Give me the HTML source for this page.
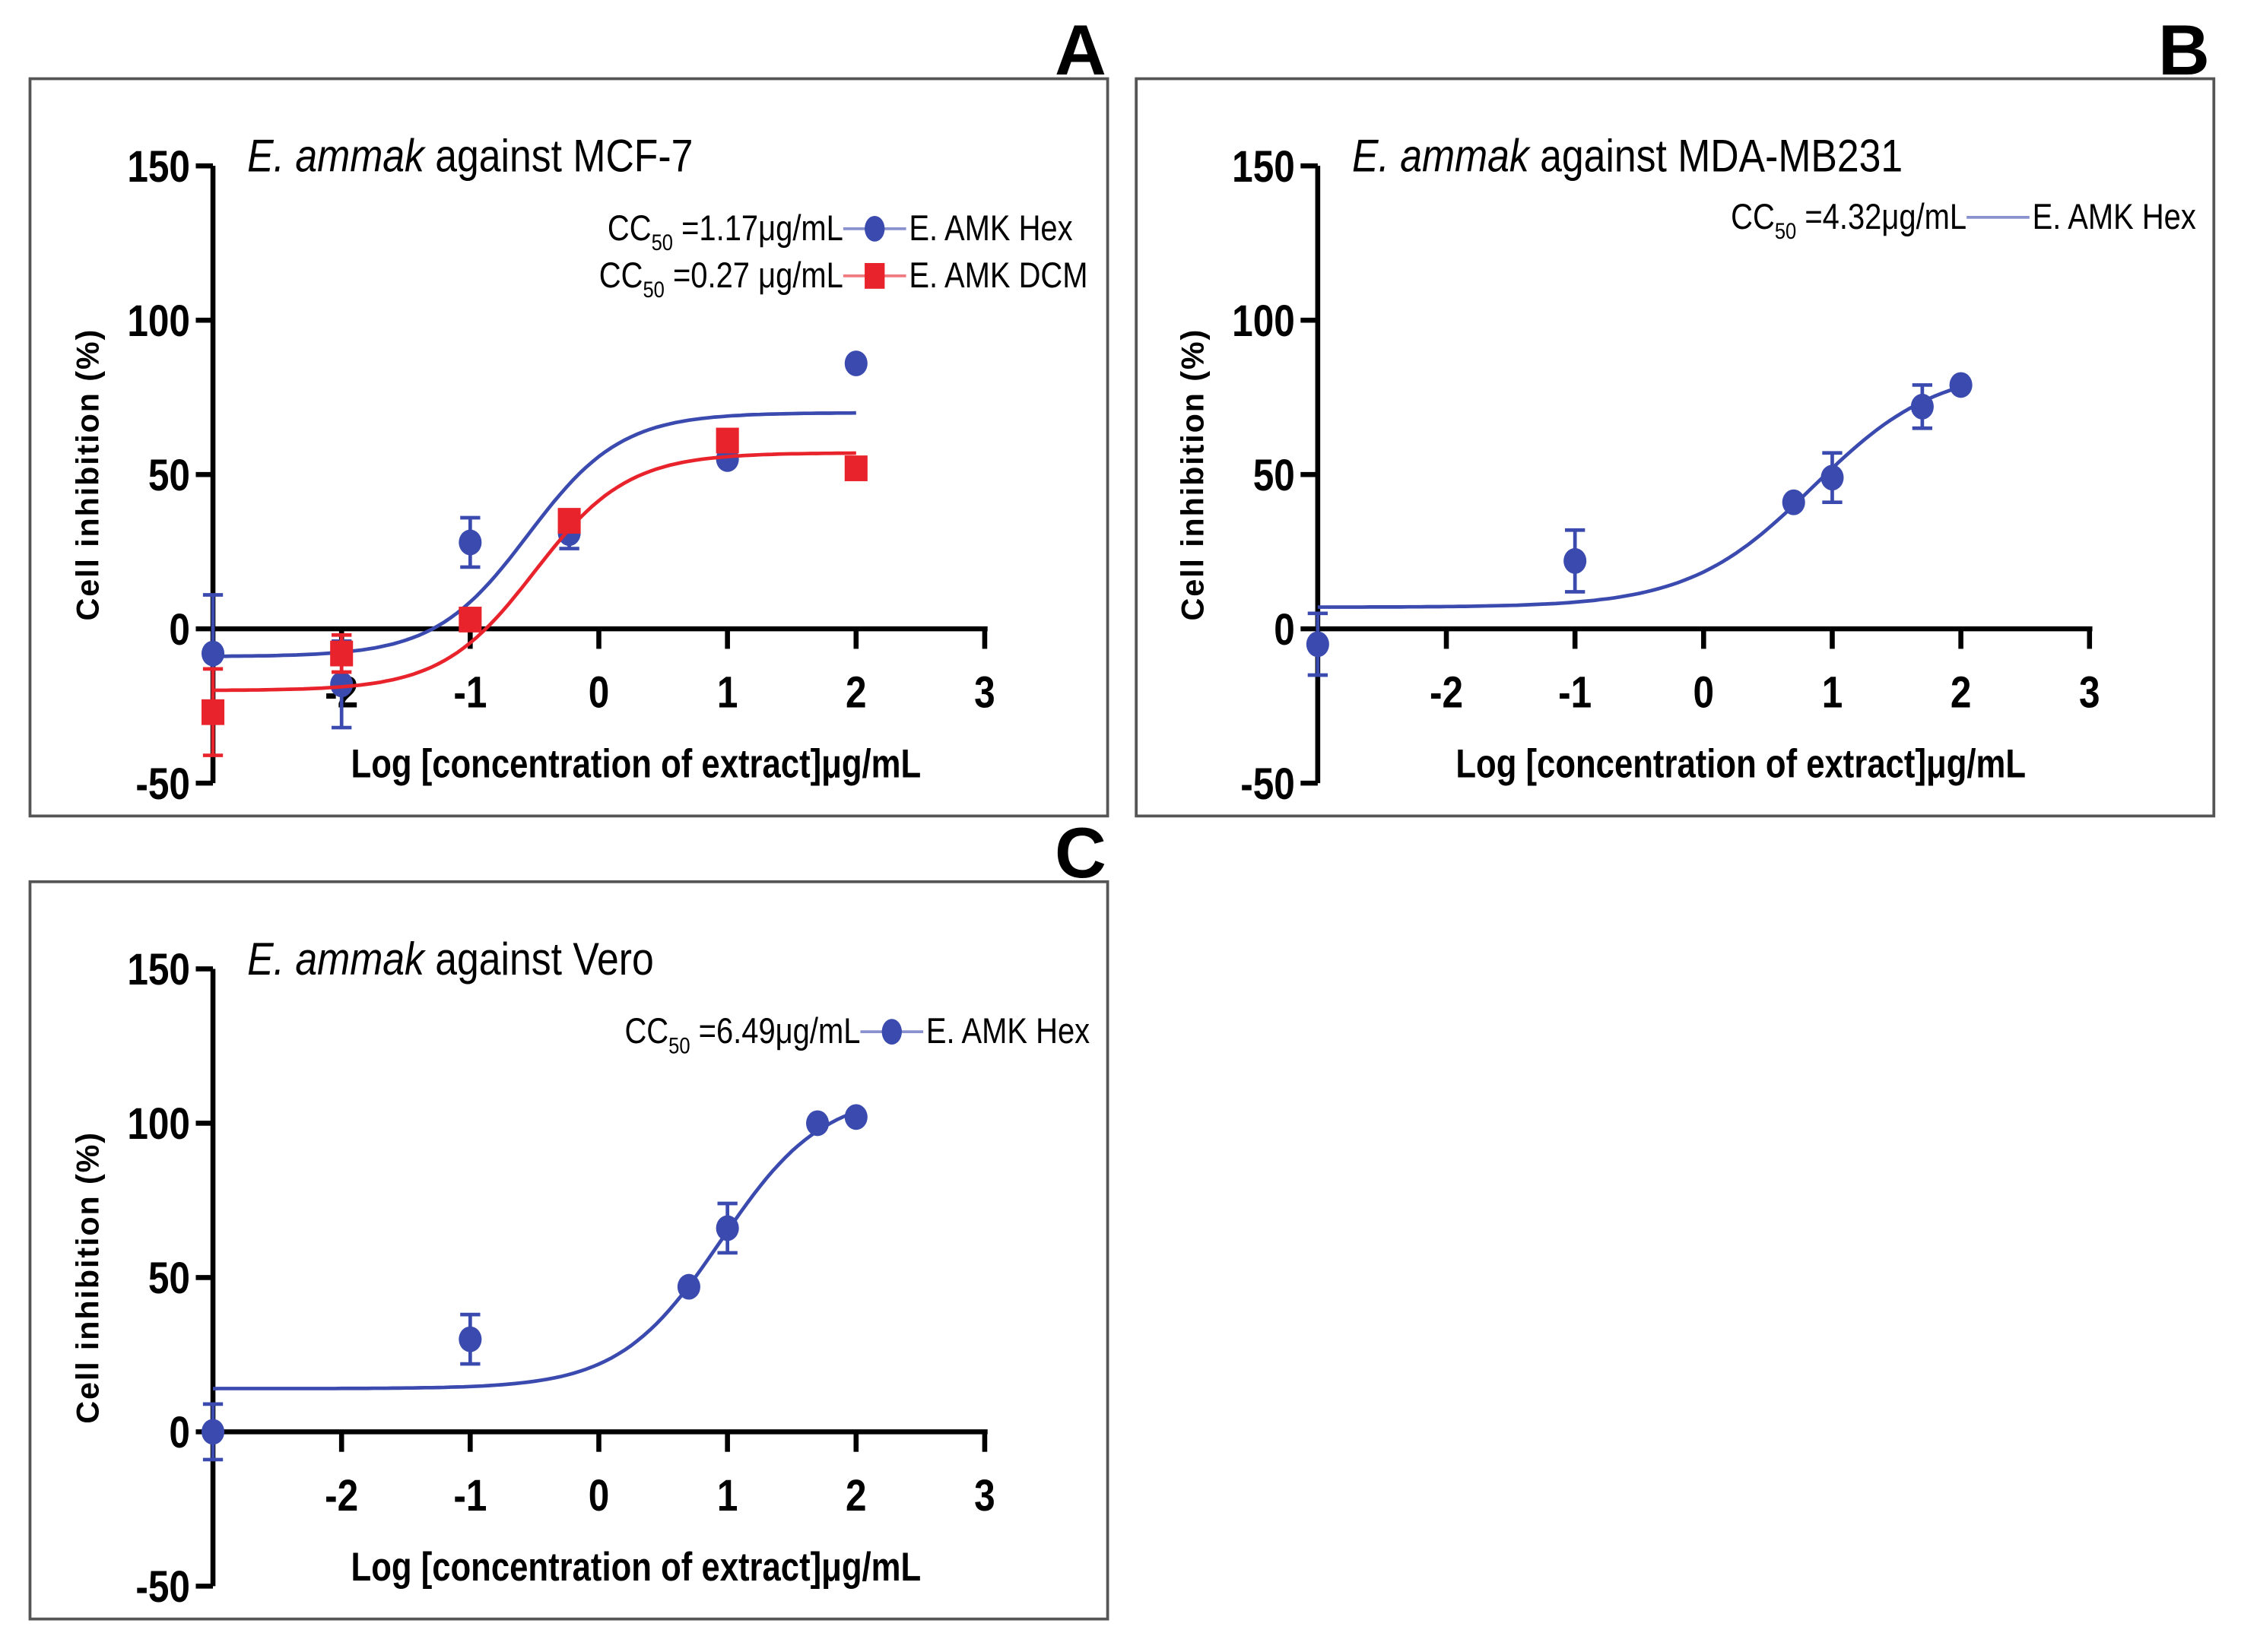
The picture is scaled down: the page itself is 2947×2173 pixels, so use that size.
<!DOCTYPE html>
<html><head><meta charset="utf-8"><style>
html,body{margin:0;padding:0;background:#fff;}
svg{display:block;}
text{font-family:"Liberation Sans",sans-serif;}
.tk{font-weight:bold;font-size:31px;}
.lg{font-size:25px;}
</style></head><body>
<svg id="fig" width="2947" height="2173" viewBox="0 0 1568 1156" xmlns="http://www.w3.org/2000/svg"></svg>
<script>
// ---- data ----
const xTicks = [-2,-1,0,1,2,3];
const yTicks = [150,100,50,0,-50];
const aHexX = [-3,-2,-1,-0.23,1,2];
const aHexY = [-8,-18,28,31,55,86];
const aHexErr = [19,14,8,5,0,0];
const aDcmX = [-3,-2,-1,-0.23,1,2];
const aDcmY = [-27,-8,3,35,61,52];
const aDcmErr = [14,6,0,0,0,0];
const bX = [-3,-1,0.7,1,1.7,2];
const bY = [-5,22,41,49,72,79];
const bErr = [10,10,0,8,7,0];
const cX = [-3,-1,0.7,1,1.7,2];
const cY = [0,30,47,66,100,102];
const cErr = [9,8,0,8,0,0];
// curve params: bottom, top, x50, hill
const aHexFit = [-9,70,-0.55,1.2];
const aDcmFit = [-20,57,-0.5,1.2];
const bFit = [7,85,0.85,0.9];
const cFit = [14,110,0.95,1.1];

const NS="http://www.w3.org/2000/svg";
const svg=document.getElementById('fig');
const BLUE="#3b4aae", RED="#e8232c";
function mk(tag,attrs,parent,txt){const e=document.createElementNS(NS,tag);for(const k in attrs)e.setAttribute(k,attrs[k]);if(txt!==undefined)e.textContent=txt;(parent||svg).appendChild(e);return e;}

function panel(id,bx,by,axX,y0,title,letter,lx,ly){
  const g=mk('g',{});
  
  
  const box=mk('rect',{x:bx,y:by,width:754,height:516,fill:'none',stroke:'#555','stroke-width':2},g);
  
  
  const L=mk('text',{x:lx,y:ly,'font-size':50,'font-weight':'bold'},g,letter);
  
  
  const X=v=>axX+(v+3)*90;
  const Y=v=>y0-v*2.16;
  const ya=mk('line',{x1:axX,y1:Y(150),x2:axX,y2:Y(-50),stroke:'#000','stroke-width':3.5},g);
  
  
  yTicks.forEach(t=>{
    mk('line',{x1:axX-12,y1:Y(t),x2:axX,y2:Y(t),stroke:'#000','stroke-width':3.5},g);
    const tl=mk('text',{x:0,y:0,'class':'tk','text-anchor':'end',transform:`translate(${axX-16},${Y(t)+11}) scale(0.85,1)`},g,String(t));
    
    
  });
  const xa=mk('line',{x1:axX,y1:Y(0),x2:X(3)+2,y2:Y(0),stroke:'#000','stroke-width':3.5},g);
  
  
  xTicks.forEach(t=>{
    mk('line',{x1:X(t),y1:Y(0),x2:X(t),y2:Y(0)+14,stroke:'#000','stroke-width':3.5},g);
    const tl=mk('text',{x:0,y:0,'class':'tk','text-anchor':'middle',transform:`translate(${X(t)},${Y(0)+55}) scale(0.85,1)`},g,String(t));
    
    
  });
  const yt=mk('text',{x:0,y:0,'font-size':22,'font-weight':'bold','text-anchor':'middle',transform:`translate(${axX-80},${Y(50)}) rotate(-90)`,'letter-spacing':'1'},g,'Cell inhibition (%)');
  
  
  const xt=mk('text',{x:0,y:0,'font-size':28,'font-weight':'bold','text-anchor':'middle',transform:`translate(${axX+296},${Y(-50)-4}) scale(0.83,1)`},g,'Log [concentration of extract]μg/mL');
  
  
  const tt=mk('text',{x:0,y:0,'font-size':32,transform:`translate(${axX+24},${Y(150)+4}) scale(0.86,1)`},g);
  
  
  mk('tspan',{'font-style':'italic'},tt,'E. ammak');
  mk('tspan',{},tt,' against '+title);
  return {g,X,Y};
}

function series(p,xs,ys,errs,fit,color,shape,name){
  const [b,t,x50,h]=fit;
  let d='';
  for(let i=0;i<=100;i++){const x=-3+5*i/100;const y=b+(t-b)/(1+Math.pow(10,(x50-x)*h));d+=(i?'L':'M')+p.X(x).toFixed(1)+','+p.Y(y).toFixed(1);}
  const c=mk('path',{d,fill:'none',stroke:color,'stroke-width':2.5},p.g);
  
  
  xs.forEach((x,i)=>{
    const cx=p.X(x),cy=p.Y(ys[i]);
    if(errs[i]>0){
      const e1=p.Y(ys[i]+errs[i]),e2=p.Y(ys[i]-errs[i]);
      const eb=mk('path',{d:`M${cx},${e1}L${cx},${e2}M${cx-7},${e1}L${cx+7},${e1}M${cx-7},${e2}L${cx+7},${e2}`,stroke:color,'stroke-width':2.5,fill:'none'},p.g);
      
      
    }
    let m;
    if(shape==='c') m=mk('ellipse',{cx,cy,rx:8,ry:9,fill:color},p.g);
    else m=mk('rect',{x:cx-8,y:cy-9,width:16,height:18,fill:color},p.g);
    
    
  });
}

function legend(p,x,y,cc,label,color,shape){
  const g=mk('g',{},p.g);
  
  
  const t=mk('text',{x:0,y:0,'class':'lg','text-anchor':'end',transform:`translate(${x},${y}) scale(0.85,1)`},g);
  mk('tspan',{},t,'CC');
  mk('tspan',{'font-size':16,dy:7},t,'50');
  mk('tspan',{dy:-7},t,' ='+cc+'μg/mL');
  mk('line',{x1:x,y1:y-8,x2:x+44,y2:y-8,stroke:color,'stroke-width':2,opacity:0.6},g);
  if(shape==='c') mk('ellipse',{cx:x+22,cy:y-8,rx:7,ry:9,fill:color},g);
  else if(shape==='s') mk('rect',{x:x+15,y:y-17,width:14,height:18,fill:color},g);
  mk('text',{x:0,y:0,'class':'lg',transform:`translate(${x+46},${y}) scale(0.85,1)`},g,label);
}

const A=panel('a',21,55,149,440,'MCF-7','A',738,52);
series(A,aHexX,aHexY,aHexErr,aHexFit,BLUE,'c','hex');
series(A,aDcmX,aDcmY,aDcmErr,aDcmFit,RED,'s','dcm');
legend(A,590,168,'1.17','E. AMK Hex',BLUE,'c');
legend(A,590,201,'0.27 ','E. AMK DCM',RED,'s');

const B=panel('b',795,55,922,440,'MDA-MB231','B',1510,52);
series(B,bX,bY,bErr,bFit,BLUE,'c','hex');
legend(B,1376,160,'4.32','E. AMK Hex',BLUE,'');

const C=panel('c',21,617,149,1002,'Vero','C',738,614);
series(C,cX,cY,cErr,cFit,BLUE,'c','hex');
legend(C,602,730,'6.49','E. AMK Hex',BLUE,'c');
</script>
</body></html>
